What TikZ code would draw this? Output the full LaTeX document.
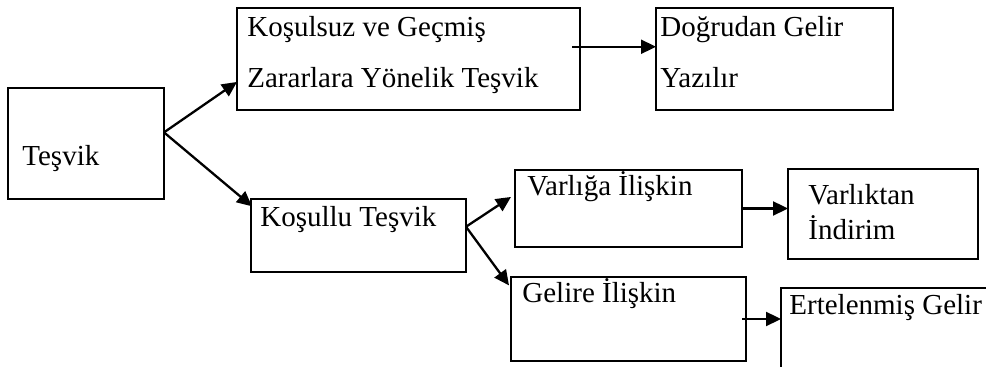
\documentclass[tikz,border=0pt]{standalone}
\usepackage{fontspec}
\setmainfont{Liberation Serif}
\usetikzlibrary{arrows.meta,calc}

\begin{document}
\begin{tikzpicture}[
    x=0.5pt, y=-0.5pt,
    boxnode/.style={rectangle, draw=black, line width=1.15pt, anchor=north west, inner sep=0pt, outer sep=0pt},
    txtnode/.style={anchor=base west, inner sep=0pt, align=left, font=\fontsize{14.5pt}{25.5pt}\selectfont},
    arr/.style={-{Triangle[length=7.5pt,width=7pt]}, line width=1.15pt},
]
    \useasboundingbox (0,0) rectangle (986,367);
    \clip (0,0) rectangle (986,367);

    %Boxes
    \node[boxnode, minimum width=78pt, minimum height=55.5pt] (tesvik) at (8,88) {};
    \node[boxnode, minimum width=171.5pt, minimum height=51pt] (kosulsuz) at (237,8) {};
    \node[boxnode, minimum width=118.5pt, minimum height=51pt] (dogrudan) at (656,8) {};
    \node[boxnode, minimum width=107.5pt, minimum height=36.5pt] (kosullu) at (251,199) {};
    \node[boxnode, minimum width=113.5pt, minimum height=38.5pt] (varliga) at (515,170) {};
    \node[boxnode, minimum width=95pt, minimum height=45pt] (varliktan) at (788,169) {};
    \node[boxnode, minimum width=117.5pt, minimum height=42pt] (gelire) at (511,277) {};
    \node[boxnode, minimum width=120pt, minimum height=60pt] (ertelenmis) at (781,288) {};

    %Texts (base of last line)
    \node[txtnode] (tesvik-txt) at (22,166) {Teşvik};
    \node[txtnode] (kosulsuz-txt) at (247,88) {Koşulsuz ve Geçmiş\\Zararlara Yönelik Teşvik};
    \node[txtnode] (dogrudan-txt) at (660,88) {Doğrudan Gelir\\Yazılır};
    \node[txtnode] (kosullu-txt) at (260,227) {Koşullu Teşvik};
    \node[txtnode] (varliga-txt) at (527,196) {Varlığa İlişkin};
    \node[txtnode, font=\fontsize{14.5pt}{17.5pt}\selectfont] (varliktan-txt) at (808,240) {Varlıktan\\İndirim};
    \node[txtnode] (gelire-txt) at (522,303) {Gelire İlişkin};
    \node[txtnode] (ertelenmis-txt) at (789,315) {Ertelenmiş Gelir};

    %Lines
    \coordinate (tesvik-out) at ($(tesvik.north east)!0.4!(tesvik.south east)$);
    \coordinate (kosulsuz-out) at ($(kosulsuz.north east)!0.38!(kosulsuz.south east) + (-8,0)$);
    \coordinate (kosullu-out) at ($(kosullu.north east)!0.38!(kosullu.south east)$);
    \coordinate (gelire-out) at ($(gelire.east) + (-4,0)$);

    \draw[arr] (tesvik-out) -- ($(kosulsuz.north west)!0.725!(kosulsuz.south west)$);
    \draw[arr] (tesvik-out) -- ($(kosullu.north west)!0.1!(kosullu.south west) + (1,0)$);
    \draw[arr] (kosulsuz-out) -- (kosulsuz-out -| dogrudan.west);
    \draw[arr] (kosullu-out) -- ($(varliga.north west)!0.35!(varliga.south west) + (-4,0)$);
    \draw[arr] (kosullu-out) -- ($(gelire.north west)!0.1!(gelire.south west) + (-2,0)$);
    \draw[arr] (varliga.east) -- (varliga.east -| varliktan.west);
    \draw[arr] (gelire-out) -- (gelire-out -| ertelenmis.west);
\end{tikzpicture}
\end{document}
